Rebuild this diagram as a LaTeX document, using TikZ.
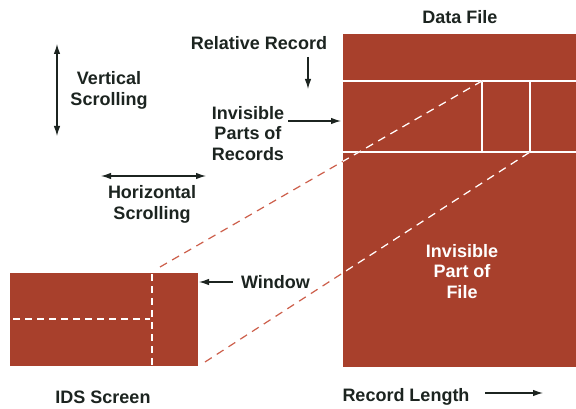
\documentclass[tikz,border=0pt]{standalone}
\usepackage{fontspec}
\setmainfont{Liberation Sans}
\usetikzlibrary{arrows.meta}
\definecolor{brick}{RGB}{168,64,44}
\definecolor{ink}{RGB}{28,36,32}
\definecolor{dashred}{RGB}{205,95,75}
\begin{document}
\begin{tikzpicture}[x=1pt,y=-1pt,
  lbl/.style={font=\bfseries\fontsize{18}{20.5}\selectfont, text=ink, align=center, inner sep=0pt},
  wlbl/.style={lbl, text=white},
  tip/.tip={Latex[length=10pt,width=6.5pt]},
  arr/.style={draw=ink, line width=1.2pt, -tip},
  darr/.style={draw=ink, line width=1.2pt, tip-tip},
  wline/.style={draw=white, line width=1.8pt},
  wdash/.style={draw=white, line width=1.4pt, dash pattern=on 7pt off 5pt},
  proj/.style={line width=1.2pt, dash pattern=on 8pt off 6pt},
  box/.style={fill=brick, inner sep=0pt, anchor=north west}
]
\useasboundingbox (0,0) rectangle (576,409);
\fill[white] (0,0) rectangle (576,409);

% data file
\node[box, minimum width=233pt, minimum height=333pt] (file) at (343,34) {};
\coordinate (r1l) at (343,81); \coordinate (r1r) at (576,81);
\coordinate (r2l) at (343,152); \coordinate (r2r) at (576,152);
\coordinate (v1t) at (482,81); \coordinate (v1b) at (482,152);
\coordinate (v2t) at (530,81); \coordinate (v2b) at (530,152);
\draw[wline] (r1l) -- (r1r);
\draw[wline] (r2l) -- (r2r);
\draw[wline] (v1t) -- (v1b);
\draw[wline] (v2t) -- (v2b);

% IDS screen
\node[box, minimum width=188pt, minimum height=93pt] (screen) at (10,273) {};
\coordinate (wt) at (152,274); \coordinate (wb) at (152,366);
\coordinate (hl) at (13,319); \coordinate (hr) at (150,319);
\draw[wdash] (wt) -- (wb);
\draw[wdash] (hl) -- (hr);

% projection lines
\coordinate (p1s) at (160,267);
\coordinate (p2s) at (205,362);
\draw[proj, dashred] (p1s) -- (v1t);
\draw[proj, dashred] (p2s) -- (v2b);
\begin{scope}
  \clip (file.north west) rectangle (file.south east);
  \draw[proj, white] (p1s) -- (v1t);
  \draw[proj, white] (p2s) -- (v2b);
\end{scope}

% labels
\node[lbl] (datafile) at (460,17) {Data File};
\node[lbl] (relrec) at (259,43) {Relative Record};
\coordinate (rra) at (308,57); \coordinate (rrb) at (308,89);
\draw[arr] (rra) -- (rrb);

\node[lbl] (invrec) at (248,133.5) {Invisible\\Parts of\\Records};
\coordinate (ira) at (288,121); \coordinate (irb) at (341,121);
\draw[arr] (ira) -- (irb);

\coordinate (vsa) at (57,44); \coordinate (vsb) at (57,136);
\draw[darr] (vsa) -- (vsb);
\node[lbl] (vscroll) at (109,90.5) {Vertical\\Scrolling};

\coordinate (hsa) at (101,176); \coordinate (hsb) at (206,176);
\draw[darr] (hsa) -- (hsb);
\node[lbl] (hscroll) at (152,204.5) {Horizontal\\Scrolling};

\node[lbl] (window) at (275.5,282) {Window};
\coordinate (wia) at (233,282); \coordinate (wib) at (199,282);
\draw[arr] (wia) -- (wib);

\node[lbl] (ids) at (103,397) {IDS Screen};
\node[lbl] (reclen) at (406,397) {Record Length};
\coordinate (rla) at (485,393); \coordinate (rlb) at (543,393);
\draw[arr] (rla) -- (rlb);

\node[wlbl] (invfile) at (462,271.5) {Invisible\\Part of\\File};
\end{tikzpicture}
\end{document}
